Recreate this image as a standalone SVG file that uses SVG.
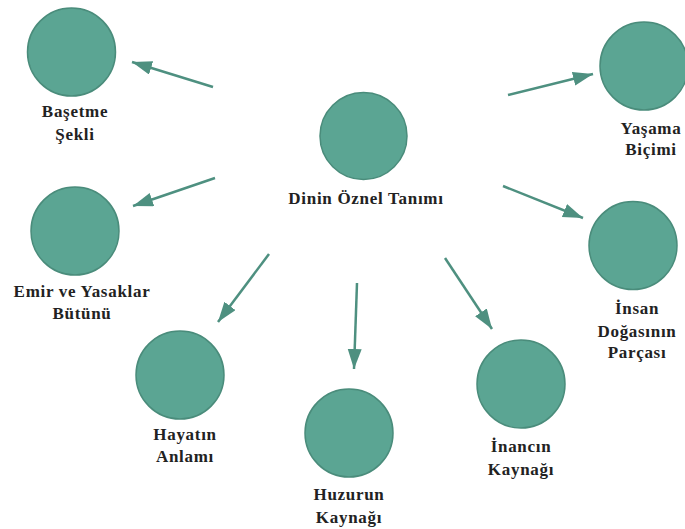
<svg xmlns="http://www.w3.org/2000/svg" width="685" height="529" viewBox="0 0 685 529">
<defs>
<style>
.node circle{fill:#5ba593;stroke:#4a8c7b;stroke-width:1.5}
.node text{font-family:"Liberation Serif","Times New Roman",serif;font-weight:bold;font-size:17px;fill:#222;text-anchor:middle;letter-spacing:0.7px}
.conn line{stroke:#4e9080;stroke-width:2.5}
</style>
<marker id="ah" markerUnits="userSpaceOnUse" markerWidth="22" markerHeight="16" refX="20" refY="7" orient="auto">
<path d="M0,0 L20,7 L0,14 z" fill="#4e9080"/>
</marker>
</defs>
<rect width="685" height="529" fill="#fff"/>
<g id="connectors" class="conn">
<line x1="213" y1="87" x2="132" y2="62" marker-end="url(#ah)"/>
<line x1="508" y1="95" x2="593" y2="74" marker-end="url(#ah)"/>
<line x1="215" y1="178" x2="133" y2="206" marker-end="url(#ah)"/>
<line x1="503" y1="186" x2="583" y2="218" marker-end="url(#ah)"/>
<line x1="269" y1="254" x2="218" y2="322" marker-end="url(#ah)"/>
<line x1="357" y1="283" x2="354" y2="369" marker-end="url(#ah)"/>
<line x1="445" y1="258" x2="492" y2="329" marker-end="url(#ah)"/>
</g>
<g id="center" class="node">
<circle cx="363.5" cy="136" r="43.5"/>
<text x="366" y="204">Dinin Öznel Tanımı</text>
</g>
<g id="basetme" class="node">
<circle cx="71.5" cy="52" r="44"/>
<text x="75" y="117">Başetme</text>
<text x="75" y="140">Şekli</text>
</g>
<g id="yasama" class="node">
<circle cx="644" cy="66" r="44"/>
<text x="651" y="134">Yaşama</text>
<text x="651" y="155">Biçimi</text>
</g>
<g id="emir" class="node">
<circle cx="75" cy="231" r="44"/>
<text x="82" y="297">Emir ve Yasaklar</text>
<text x="82" y="319">Bütünü</text>
</g>
<g id="insan" class="node">
<circle cx="633" cy="245.5" r="44"/>
<text x="637" y="314">İnsan</text>
<text x="637" y="337">Doğasının</text>
<text x="637" y="358">Parçası</text>
</g>
<g id="hayatin" class="node">
<circle cx="180" cy="375" r="44"/>
<text x="185" y="440">Hayatın</text>
<text x="185" y="462">Anlamı</text>
</g>
<g id="huzurun" class="node">
<circle cx="349" cy="433" r="44"/>
<text x="349" y="500">Huzurun</text>
<text x="349" y="523">Kaynağı</text>
</g>
<g id="inancin" class="node">
<circle cx="521" cy="384" r="44"/>
<text x="521" y="452">İnancın</text>
<text x="521" y="475">Kaynağı</text>
</g>
</svg>
